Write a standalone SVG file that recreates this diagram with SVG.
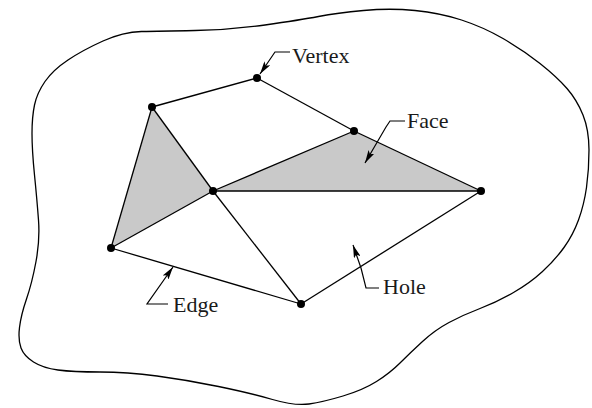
<svg xmlns="http://www.w3.org/2000/svg" width="592" height="408" viewBox="0 0 592 408">
<style>
.edge{stroke:#000;stroke-width:1.3;fill:none}
.face{fill:#c9c9c9;stroke:none}
.dot{fill:#000}
.lead{stroke:#000;stroke-width:1.2;fill:none;marker-end:url(#ah)}
.lbl{font-family:"Liberation Serif","Times New Roman",serif;font-size:22px;fill:#1a1a1a}
.outline{stroke:#000;stroke-width:1.3;fill:none}
</style>
<defs>
<marker id="ah" viewBox="0 0 13 7" refX="13" refY="3.5" markerWidth="13" markerHeight="7" markerUnits="userSpaceOnUse" orient="auto">
<path d="M0,0 L13,3.5 L0,7 L3,3.5 Z" fill="#000"/>
</marker>
</defs>
<rect width="592" height="408" fill="#fff"/>
<g id="boundary">
<path class="outline" d="M141.5,31.5 Q160,31 195,30.5 Q230,30 265,25 Q300,20 318.5,16.5 Q337,13 363.5,10.5 Q390,8 415,10.5 Q440,13 461.5,20 Q483,27 503,38.5 Q523,50 540,63.5 Q557,77 567,88.5 Q577,100 583,115 Q589,130 589,150 Q589,170 586.5,187.5 Q584,205 578.5,220 Q573,235 564,247.5 Q555,260 542.5,271.5 Q530,283 513.5,292.5 Q497,302 480,308.5 Q463,315 449,322.5 Q435,330 422.5,341.5 Q410,353 400,363 Q390,373 376.5,381.5 Q363,390 343,396 Q323,402 309,404 Q295,406 272.5,399.5 Q250,393 218.5,386.5 Q187,380 157,376 Q127,372 100,372 Q73,372 58,370 Q43,368 33.5,362 Q24,356 21,348 Q18,340 19.5,327.5 Q21,315 26.5,299 Q32,283 36,261.5 Q40,240 38.5,220 Q37,200 34.5,175 Q32,150 32,133.5 Q32,117 34.5,105 Q37,93 45,81.5 Q53,70 68,60 Q83,50 103,41 Q123,32 141.5,31.5 Z"/>
</g>
<g id="faces">
<polygon class="face" points="152,107 111,248 213,191"/>
<polygon class="face" points="213,191 354,131 481,191"/>
</g>
<g id="connectors">
<line class="edge" x1="152" y1="107" x2="257" y2="78"/>
<line class="edge" x1="257" y1="78" x2="354" y2="131"/>
<line class="edge" x1="354" y1="131" x2="481" y2="191"/>
<line class="edge" x1="152" y1="107" x2="213" y2="191"/>
<line class="edge" x1="152" y1="107" x2="111" y2="248"/>
<line class="edge" x1="111" y1="248" x2="213" y2="191"/>
<line class="edge" x1="213" y1="191" x2="354" y2="131"/>
<line class="edge" x1="213" y1="191" x2="481" y2="191"/>
<line class="edge" x1="111" y1="248" x2="301" y2="304"/>
<line class="edge" x1="213" y1="191" x2="301" y2="304"/>
<line class="edge" x1="301" y1="304" x2="481" y2="191"/>
</g>
<g id="vA"><circle class="dot" cx="152" cy="107" r="4"/></g>
<g id="vB"><circle class="dot" cx="257" cy="78" r="4"/></g>
<g id="vC"><circle class="dot" cx="354" cy="131" r="4"/></g>
<g id="vD"><circle class="dot" cx="481" cy="191" r="4"/></g>
<g id="vE"><circle class="dot" cx="213" cy="191" r="4"/></g>
<g id="vF"><circle class="dot" cx="111" cy="248" r="4"/></g>
<g id="vG"><circle class="dot" cx="301" cy="304" r="4"/></g>
<g id="label-vertex">
<path class="lead" d="M290,52 L275,52 L260,74"/>
<text class="lbl" x="292" y="63">Vertex</text>
</g>
<g id="label-face">
<path class="lead" d="M405,121 L390,121 L386,127 L365,163"/>
<text class="lbl" x="407" y="128">Face</text>
</g>
<g id="label-edge">
<path class="lead" d="M168,304 L147,304 L173,267"/>
<text class="lbl" x="173" y="312">Edge</text>
</g>
<g id="label-hole">
<path class="lead" d="M379,288 L366,288 L361,268 L353,245"/>
<text class="lbl" x="383" y="294">Hole</text>
</g>
</svg>
